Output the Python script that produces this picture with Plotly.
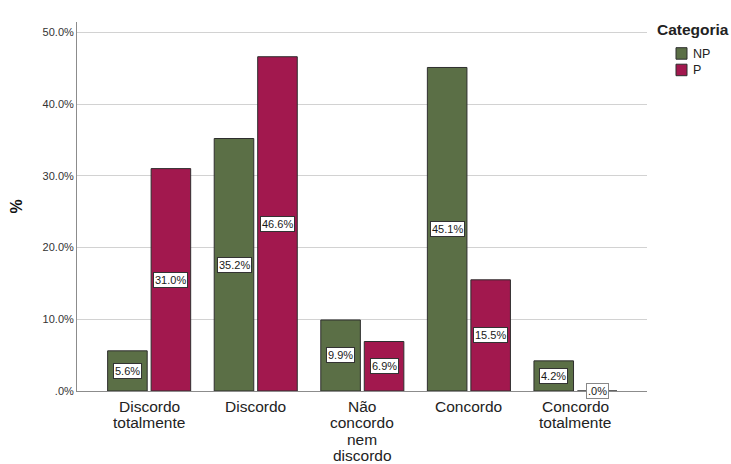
import plotly.graph_objects as go

categories = ["Discordo totalmente", "Discordo", "Não concordo nem discordo", "Concordo", "Concordo totalmente"]
category_lines = [["Discordo", "totalmente"], ["Discordo"], ["Não", "concordo", "nem", "discordo"], ["Concordo"], ["Concordo", "totalmente"]]
series_names = ["NP", "P"]
np_values = [5.6, 35.2, 9.9, 45.1, 4.2]
p_values = [31.0, 46.6, 6.9, 15.5, 0.0]
tick_vals = [0, 10, 20, 30, 40, 50]
tick_text = [".0%", "10.0%", "20.0%", "30.0%", "40.0%", "50.0%"]

FONT = "Liberation Sans, Arial, sans-serif"
COLORS = ["#5b6f46", "#a2184e"]
OUTLINE = "#2e2e2e"

fig = go.Figure()
for name, vals, col in zip(series_names, [np_values, p_values], COLORS):
    fig.add_trace(go.Bar(name=name, x=categories, y=vals, showlegend=False,
                         marker=dict(color=col, line=dict(color=OUTLINE, width=1))))

annotations = []
# value labels in white boxes, centred at half bar height
for vals, shift in ((np_values, -21.7), (p_values, 21.7)):
    for c, v in zip(categories, vals):
        annotations.append(dict(
            x=c, y=v / 2, xref="x", yref="y", xshift=shift,
            text=f"{v:.1f}%" if v > 0 else ".0%", showarrow=False,
            font=dict(family=FONT, size=11, color="#1a1a1a"),
            bgcolor="white", bordercolor="#333" if v > 0 else "#888",
            borderwidth=1, borderpad=1,
        ))

# category labels (tight line spacing)
for c, lines in zip(categories, category_lines):
    for i, line in enumerate(lines):
        annotations.append(dict(
            x=c, y=0, xref="x", yref="paper", yshift=-15 - 16.5 * i,
            text=line, showarrow=False, xanchor="center", yanchor="middle",
            font=dict(family=FONT, size=15.5, color="#222"),
        ))

# y axis title
annotations.append(dict(
    x=0, y=0.5, xref="paper", yref="paper", xshift=-61, textangle=-90,
    text="<b>%</b>", showarrow=False, xanchor="center", yanchor="middle",
    font=dict(family=FONT, size=16, color="#111"),
))

# legend title and entries
annotations.append(dict(
    x=1, y=1, xref="paper", yref="paper", xshift=8, yshift=-7,
    text="<b>Categoria</b>", showarrow=False, xanchor="left", yanchor="middle",
    font=dict(family=FONT, size=15.5, color="#222"),
))
shapes = []
for i, (name, col) in enumerate(zip(series_names, COLORS)):
    top = -(47.7 - 22) - 16.5 * i
    shapes.append(dict(
        type="rect", xref="paper", yref="paper",
        xsizemode="pixel", ysizemode="pixel", xanchor=1, yanchor=1,
        x0=29, x1=40, y0=top, y1=top - 11.5,
        fillcolor=col, line=dict(color=OUTLINE, width=1),
    ))
    annotations.append(dict(
        x=1, y=1, xref="paper", yref="paper", xshift=44, yshift=top - 6,
        text=name, showarrow=False, xanchor="left", yanchor="middle",
        font=dict(family=FONT, size=12.5, color="#222"),
    ))

fig.update_layout(
    width=731, height=464,
    margin=dict(l=77, r=84, t=22, b=73, autoexpand=False),
    paper_bgcolor="white", plot_bgcolor="white",
    barmode="group", bargap=0.184, bargroupgap=0.09,
    font=dict(family=FONT, color="#222"),
    xaxis=dict(
        type="category", range=[-0.677, 4.671],
        showline=True, linecolor="#8c8c8c", linewidth=1,
        ticks="", showticklabels=False, showgrid=False,
    ),
    yaxis=dict(
        range=[0, 51.44], tickvals=tick_vals, ticktext=tick_text,
        showline=True, linecolor="#8c8c8c", linewidth=1,
        showgrid=True, gridcolor="#d2d2d2", gridwidth=1,
        tickfont=dict(size=11, family=FONT, color="#333"),
        ticks="", zeroline=False, automargin=False,
    ),
    annotations=annotations,
    shapes=shapes,
)

fig.write_html(
    "out.html",
    config={"displayModeBar": False},
    post_script="document.body.style.margin='0';document.body.style.overflow='hidden';",
)
